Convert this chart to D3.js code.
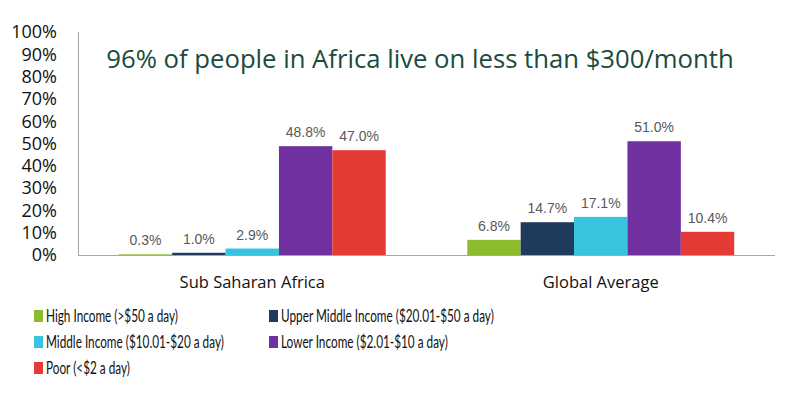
<!DOCTYPE html>
<html>
<head>
<meta charset="utf-8">
<script src="https://cdn.jsdelivr.net/npm/d3@7"></script>
<style>
  body { margin: 0; background: #fff; }
  svg { display: block; }
</style>
</head>
<body>
<div id="chart"></div>
<script>
const categories = ['Sub Saharan Africa', 'Global Average'];
const seriesNames = [
    'High Income (>$50 a day)',
    'Upper Middle Income ($20.01-$50 a day)',
    'Middle Income ($10.01-$20 a day)',
    'Lower Income ($2.01-$10 a day)',
    'Poor (<$2 a day)'
];
const seriesColors = ['#8cbb2e', '#1f3a5c', '#36c4de', '#7030a0', '#e53b36'];
const subSaharan = [0.3, 1.0, 2.9, 48.8, 47.0];
const globalAvg = [6.8, 14.7, 17.1, 51.0, 10.4];
const yTicks = [0, 10, 20, 30, 40, 50, 60, 70, 80, 90, 100];

const values = [subSaharan, globalAvg];
const width = 800, height = 399;

const svg = d3.select('#chart').append('svg')
    .attr('width', width)
    .attr('height', height);

const x0 = d3.scaleBand()
    .domain(categories)
    .range([78, 775])
    .paddingInner(0.234)
    .paddingOuter(0.117);

const x1 = d3.scaleBand()
    .domain(d3.range(seriesNames.length))
    .range([0, x0.bandwidth()]);

const y = d3.scaleLinear()
    .domain([0, 100])
    .range([255, 32]);

// y tick labels
svg.append('g')
    .selectAll('text')
    .data(yTicks)
    .join('text')
    .attr('x', 57)
    .attr('y', d => y(d))
    .attr('dy', '0.35em')
    .attr('text-anchor', 'end')
    .style('font-family', 'Open Sans, sans-serif')
    .style('font-size', '18px')
    .style('fill', '#111')
    .text(d => d + '%');

// bars
const groups = svg.append('g')
    .selectAll('g')
    .data(categories)
    .join('g')
    .attr('transform', d => `translate(${x0(d)},0)`);

groups.selectAll('rect')
    .data((d, ci) => values[ci].map((v, i) => ({i, v})))
    .join('rect')
    .attr('x', d => x1(d.i))
    .attr('y', d => y(d.v))
    .attr('width', x1.bandwidth())
    .attr('height', d => y(0) - y(d.v))
    .attr('fill', d => seriesColors[d.i]);

groups.selectAll('text')
    .data((d, ci) => values[ci].map((v, i) => ({i, v})))
    .join('text')
    .attr('x', d => x1(d.i) + x1.bandwidth() / 2)
    .attr('y', d => y(d.v) - 9)
    .attr('text-anchor', 'middle')
    .style('font-family', 'Liberation Sans, Arial, sans-serif')
    .style('font-size', '14px')
    .style('fill', '#595959')
    .text(d => d.v.toFixed(1) + '%');

// axes lines
svg.append('line')
    .attr('x1', 78.5).attr('x2', 78.5)
    .attr('y1', y(100)).attr('y2', y(0))
    .attr('stroke', '#a6a6a6').attr('stroke-width', 1);

svg.append('line')
    .attr('x1', 78).attr('x2', 775)
    .attr('y1', y(0) + 0.5).attr('y2', y(0) + 0.5)
    .attr('stroke', '#a6a6a6').attr('stroke-width', 1);

// category labels
svg.append('g')
    .selectAll('text')
    .data(categories)
    .join('text')
    .attr('x', d => x0(d) + x0.bandwidth() / 2)
    .attr('y', 288)
    .attr('text-anchor', 'middle')
    .style('font-family', 'Open Sans, sans-serif')
    .style('font-size', '16.5px')
    .style('fill', '#111')
    .text(d => d);

// title
svg.append('text')
    .attr('x', 420)
    .attr('y', 68)
    .attr('text-anchor', 'middle')
    .style('font-family', 'Open Sans, sans-serif')
    .style('font-size', '25.7px')
    .style('fill', '#1a4b3d')
    .text('96% of people in Africa live on less than $300/month');

// legend (narrow font look: squeeze text horizontally)
const legendPos = [[34, 316], [269, 316], [34, 342], [269, 342], [34, 368]];
const legend = svg.append('g')
    .selectAll('g')
    .data(seriesNames)
    .join('g')
    .attr('transform', (d, i) => `translate(${legendPos[i][0]},${legendPos[i][1]})`);

legend.append('rect')
    .attr('x', 0).attr('y', -6)
    .attr('width', 9).attr('height', 12)
    .attr('fill', (d, i) => seriesColors[i]);

const legendText = legend.append('text')
    .attr('y', 0)
    .attr('dy', '0.36em')
    .style('font-family', 'Lato, sans-serif')
    .style('font-size', '18px')
    .style('fill', '#111')
    .text(d => d);

// squeeze so the longest first-column entry is about 178px wide
const refWidth = legendText.filter((d, i) => i === 2).node().getComputedTextLength();
const squeeze = 178 / refWidth;
legendText.attr('transform', `translate(12,0) scale(${squeeze},1)`);
</script>
</body>
</html>
